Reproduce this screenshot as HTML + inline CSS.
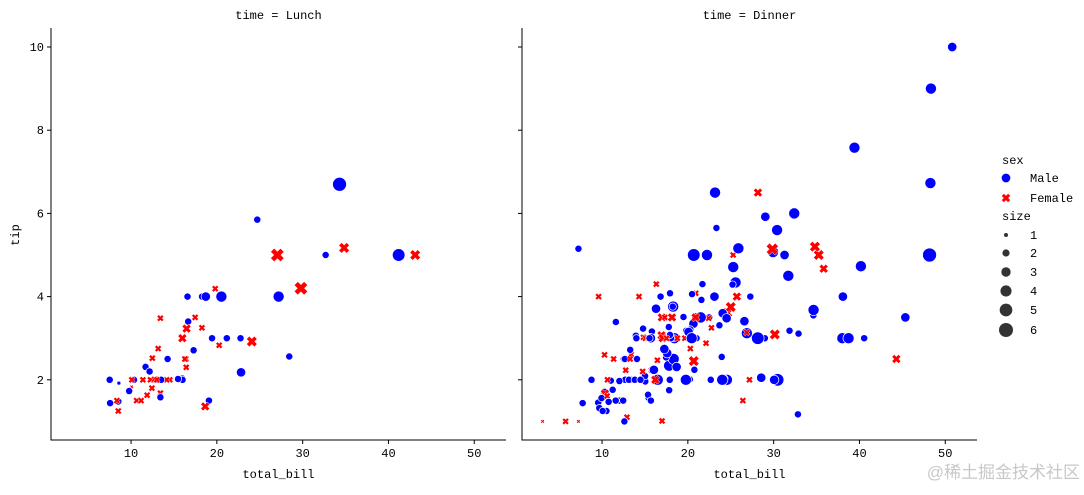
<!DOCTYPE html>
<html><head><meta charset="utf-8"><style>
body{margin:0;background:#fff;}
svg text{font-family:"Liberation Mono","WenQuanYi Zen Hei",monospace;font-size:12px;fill:#000;}
</style></head><body>
<svg id="chart" width="1084" height="490" xmlns="http://www.w3.org/2000/svg">
<g id="axes"></g><g id="marks"></g><g id="legend"></g>
<text x="1080" y="478" text-anchor="end" style="font-size:17px;fill:#c8c8c8;font-family:'Liberation Sans','Noto Sans CJK SC',sans-serif">@稀土掘金技术社区</text>
</svg>
<script>
const totalBill=[16.99,10.34,21.01,23.68,24.59,25.29,8.77,26.88,15.04,14.78,10.27,35.26,15.42,18.43,14.83,21.58,10.33,16.29,16.97,20.65,17.92,20.29,15.77,39.42,19.82,17.81,13.37,12.69,21.7,19.65,9.55,18.35,15.06,20.69,17.78,24.06,16.31,16.93,18.69,31.27,16.04,17.46,13.94,9.68,30.4,18.29,22.23,32.4,28.55,18.04,12.54,10.29,34.81,9.94,25.56,19.49,38.01,26.41,11.24,48.27,20.29,13.81,11.02,18.29,17.59,20.08,16.45,3.07,20.23,15.01,12.02,17.07,26.86,25.28,14.73,10.51,17.92,27.2,22.76,17.29,19.44,16.66,10.07,32.68,15.98,34.83,13.03,18.28,24.71,21.16,28.97,22.49,5.75,16.32,22.75,40.17,27.28,12.03,21.01,12.46,11.35,15.38,44.3,22.42,20.92,15.36,20.49,25.21,18.24,14.31,14.0,7.25,38.07,23.95,25.71,17.31,29.93,10.65,12.43,24.08,11.69,13.42,14.26,15.95,12.48,29.8,8.52,14.52,11.38,22.82,19.08,20.27,11.17,12.26,18.26,8.51,10.33,14.15,16.0,13.16,17.47,34.3,41.19,27.05,16.43,8.35,18.64,11.87,9.78,7.51,14.07,13.13,17.26,24.55,19.77,29.85,48.17,25.0,13.39,16.49,21.5,12.66,16.21,13.81,17.51,24.52,20.76,31.71,10.59,10.63,50.81,15.81,7.25,31.85,16.82,32.9,17.89,14.48,9.6,34.63,34.65,23.33,45.35,23.17,40.55,20.69,20.9,30.46,18.15,23.1,15.69,19.81,28.44,15.48,16.58,7.56,10.34,43.11,13.0,13.51,18.71,12.74,13.0,16.4,20.53,16.47,26.59,38.73,24.27,12.76,30.06,25.89,48.33,13.27,28.17,12.9,28.15,11.59,7.74,30.14,12.16,13.42,8.58,15.98,13.42,16.27,10.09,20.45,13.28,22.12,24.01,15.69,11.61,10.77,15.53,10.07,12.6,32.83,35.83,29.03,27.18,22.67,17.82,18.78];
const tip=[1.01,1.66,3.5,3.31,3.61,4.71,2.0,3.12,1.96,3.23,1.71,5.0,1.57,3.0,3.02,3.92,1.67,3.71,3.5,3.35,4.08,2.75,2.23,7.58,3.18,2.34,2.0,2.0,4.3,3.0,1.45,2.5,3.0,2.45,3.27,3.6,2.0,3.07,2.31,5.0,2.24,2.54,3.06,1.32,5.6,3.0,5.0,6.0,2.05,3.0,2.5,2.6,5.2,1.56,4.34,3.51,3.0,1.5,1.76,6.73,3.21,2.0,1.98,3.76,2.64,3.15,2.47,1.0,2.01,2.09,1.97,3.0,3.14,5.0,2.2,1.25,3.08,4.0,3.0,2.71,3.0,3.4,1.83,5.0,2.03,5.17,2.0,4.0,5.85,3.0,3.0,3.5,1.0,4.3,3.25,4.73,4.0,1.5,3.0,1.5,2.5,3.0,2.5,3.48,4.08,1.64,4.06,4.29,3.76,4.0,3.0,1.0,4.0,2.55,4.0,3.5,5.07,1.5,1.8,2.92,2.31,1.68,2.5,2.0,2.52,4.2,1.48,2.0,2.0,2.18,1.5,2.83,1.5,2.0,3.25,1.25,2.0,2.0,2.0,2.75,3.5,6.7,5.0,5.0,2.3,1.5,1.36,1.63,1.73,2.0,2.5,2.0,2.74,2.0,2.0,5.14,5.0,3.75,2.61,2.0,3.5,2.5,2.0,2.0,3.0,3.48,2.24,4.5,1.61,2.0,10.0,3.16,5.15,3.18,4.0,3.11,2.0,2.0,4.0,3.55,3.68,5.65,3.5,6.5,3.0,5.0,3.5,2.0,3.5,4.0,1.5,4.19,2.56,2.02,4.0,1.44,2.0,5.0,2.0,2.0,4.0,2.01,2.0,2.5,4.0,3.23,3.41,3.0,2.03,2.23,2.0,5.16,9.0,2.5,6.5,1.1,3.0,1.5,1.44,3.09,2.2,3.48,1.92,3.0,1.58,2.5,2.0,3.0,2.72,2.88,2.0,3.0,3.39,1.47,3.0,1.25,1.0,1.17,4.67,5.92,2.0,2.0,1.75,3.0];
const sex=("FMMMFMMMMM"+"MFMMFMFMFM"+"MFFMMMMMMF"+"MMFFMMMFMM"+"MMMMMMMMMM"+
"MFFMMMMFMM"+"MMMMMMFFMM"+"MFFFFMMMMM"+"MMFMMFMMMM"+"MMFFFMMMMM"+
"FFFFFMMMMF"+"MFMMFFMFFF"+"MFMMFFMFFM"+"MFFFFFFFMF"+"FMMFFFFFMM"+
"MMMMMFMFFM"+"MMFMFMMMFF"+"MMMMMMMMFM"+"MMMMMMFMFM"+"MFMMMMMFFM"+
"MFFFMFMMMF"+"MMMFFFMMMF"+"MFMFMFFMMF"+"MMMMMMMMFM"+"FMMF").split("");
const size=[2,3,3,2,4,4,2,4,2,2, 2,4,2,4,2,2,3,3,3,3, 2,2,2,4,2,4,2,2,2,2, 2,4,2,4,2,3,3,3,3,3,
3,2,2,2,4,2,4,4,3,2, 2,2,4,2,4,2,4,2,2,4, 2,2,2,4,3,3,2,1,2,2, 2,3,2,2,2,2,2,4,2,2,
2,2,1,2,2,4,2,2,2,2, 2,2,2,2,2,4,2,2,2,2, 2,2,3,2,2,2,2,2,2,2, 2,1,3,2,3,2,4,2,2,4,
2,2,2,2,2,6,2,2,2,3, 2,2,2,2,2,2,2,2,2,2, 2,6,5,6,2,2,3,2,2,2, 2,2,3,4,4,5,6,4,2,4,
4,2,3,2,2,3,2,4,2,2, 3,2,2,2,2,2,2,2,2,2, 4,2,3,4,2,5,3,5,3,3, 2,2,2,2,2,2,2,4,2,2,
3,2,2,2,4,3,3,4,2,2, 3,4,4,2,3,2,5,2,2,4, 2,2,1,3,2,2,2,4,2,2, 4,3,2,2,2,2,2,2,3,3, 2,2,2,2];
const lunchIdx=[[77,89],[117,149],[191,205],[220,226]];
const xTicks=[10,20,30,40,50];
const yTicks=[2,4,6,8,10];
const panels=["Lunch","Dinner"];
const sizeLevels=[1,2,3,4,5,6];

const NS="http://www.w3.org/2000/svg";
function mk(t,a,p){const e=document.createElementNS(NS,t);for(const k in a)e.setAttribute(k,a[k]);p.appendChild(e);return e;}
const axes=document.getElementById('axes'),marks=document.getElementById('marks'),leg=document.getElementById('legend');
const panelLeft=[51,522],panelW=455,topY=28,bottomY=440;
function xs(p,v){return panelLeft[p]+(v-0.67)*(panelW/(53.7-0.67));}
function ys(v){return 463-v*41.6;}
function rad(s){return Math.sqrt(4+45*(s-1)/5);}
function isLunch(i){return lunchIdx.some(r=>i>=r[0]&&i<=r[1]);}
function drawMarker(g,x,y,s,m){
  const r=rad(s);
  if(m!=="F"){return mk('circle',{cx:x,cy:y,r:r,fill:'#0000ff',stroke:'#fff','stroke-width':0.7},g);}
  const k=r*0.95,w=r*0.5;
  const pts=[[-k,-k+w],[-k+w,-k],[0,-w],[k-w,-k],[k,-k+w],[w,0],[k,k-w],[k-w,k],[0,w],[-k+w,k],[-k,k-w],[-w,0]].map(q=>(x+q[0]).toFixed(2)+","+(y+q[1]).toFixed(2)).join(" ");
  return mk('polygon',{points:pts,fill:'#ff0000',stroke:'#fff','stroke-width':0.5},g);
}
panels.forEach((name,p)=>{
  const L=panelLeft[p];
  const t=mk('text',{x:L+panelW/2,y:19,'text-anchor':'middle'},axes);t.textContent="time = "+name;
  
  
  const sp=mk('path',{d:`M${L},${topY}V${bottomY}H${L+panelW}`,fill:'none',stroke:'#000','stroke-width':1},axes);
  
  
  xTicks.forEach(v=>{const x=xs(p,v);mk('line',{x1:x,x2:x,y1:bottomY,y2:bottomY+4,stroke:'#000'},axes);
    const tt=mk('text',{x:x,y:bottomY+17,'text-anchor':'middle'},axes);tt.textContent=v;
    
    });
  yTicks.forEach(v=>{const y=ys(v);mk('line',{x1:L-4,x2:L,y1:y,y2:y,stroke:'#000'},axes);
    if(p===0){const tt=mk('text',{x:L-7,y:y+4,'text-anchor':'end'},axes);tt.textContent=v;
    
    }});
  const xl=mk('text',{x:L+panelW/2,y:478,'text-anchor':'middle'},axes);xl.textContent="total_bill";
  
  
  const g=mk('g',{},marks);
  
  
  totalBill.forEach((b,i)=>{
    if(isLunch(i)!==(name==="Lunch"))return;
    const el=drawMarker(g,xs(p,b),ys(tip[i]),size[i]||2,sex[i]);
    
    
  });
});
const yl=mk('text',{x:19,y:235,'text-anchor':'middle',transform:'rotate(-90 19 235)'},axes);yl.textContent="tip";


function ltext(x,y,s,n){const t=mk('text',{x:x,y:y},leg);t.textContent=s;
  
  }
ltext(1002,164,"sex","legend-title-sex");
drawMarker(leg,1006,178,3,"M");ltext(1030,182,"Male","legend-entry-male");
drawMarker(leg,1006,198,3,"F");ltext(1030,202,"Female","legend-entry-female");
ltext(1002,220,"size","legend-title-size");
const ly=[235,253,272,291,310,330];
sizeLevels.forEach((s,i)=>{mk('circle',{cx:1006,cy:ly[i],r:rad(s),fill:'#333'},leg);
  ltext(1030,ly[i]+4,String(s),"legend-entry-size");});
</script>
</body></html>
